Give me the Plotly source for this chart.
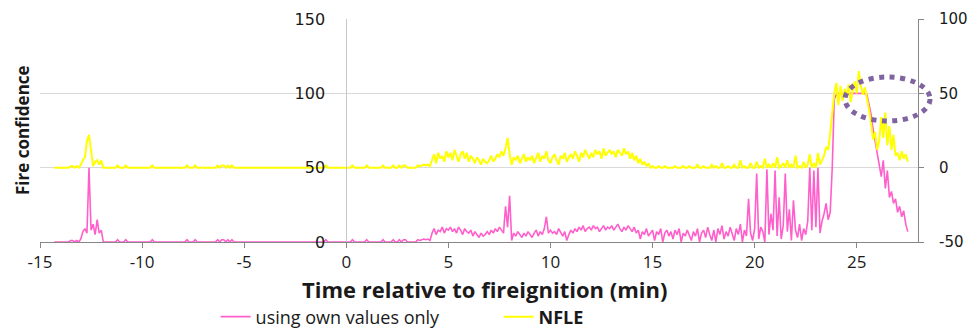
import plotly.graph_objects as go

# time grid of the samples (minutes relative to fire ignition)
T0 = -14.3
DT = 0.1

# "using own values only" (left axis, fire confidence 0-150)
own_values = (
    # -14.3 .. -13.0
    [0, 0, 0, 0, 0, 0, 0, 0, 1, 1, 0, 1, 0, 2]
    # -12.9 .. -11.9
    + [7, 9, 6, 50, 8, 12, 5, 15, 6, 8, 0]
    # -11.8 .. 4.1
    + [0, 0, 0, 0, 0, 0, 1.5, 0, 0, 0,
       1.5, 0, 0, 0, 0, 0, 0, 0, 0, 0,
       0, 0, 0, 1.5, 0, 0, 0, 0, 0, 0,
       0, 0, 0, 0, 0, 0, 0, 0, 0, 0,
       1.5, 0, 0, 0, 1.5, 0, 0, 0, 0, 0,
       0, 0, 0, 0, 0, 1.5, 0, 1.5, 1.5, 0,
       1.5, 0, 1.5, 0, 0, 0, 0, 0, 0, 0,
       0, 0, 0, 0, 0, 0, 0, 0, 0, 0,
       0, 0, 0, 0, 0, 0, 0, 0, 0, 0,
       0, 0, 0, 0, 0, 0, 0, 0, 0, 0,
       0, 0, 0, 0, 0, 0, 0, 0, 1.5, 0,
       0, 0, 0, 0, 0, 0, 0, 0, 0, 0,
       0, 1.5, 0, 0, 0, 0, 0, 0, 1.5, 0,
       0, 0, 0, 0, 0, 0, 1.5, 0, 0, 0,
       0, 1.5, 0, 0, 1.5, 0, 1.5, 1.5, 0, 0,
       0, 0, 0, 1.5, 1, 1.5, 2, 1.5, 2, 1]
    # 4.2 .. 27.5
    + [6, 9, 5, 8, 7, 10, 6, 9,
       8, 10, 7, 9, 6, 10, 8, 5, 9, 7,
       6, 8, 4, 7, 5, 3, 6, 4, 5, 7,
       5, 8, 6, 9, 7, 10, 8, 6, 24, 10,
       31, 1, 6, 4, 7, 5, 3, 6, 4, 7,
       5, 3, 6, 8, 4, 7, 5, 9, 17, 6,
       8, 6, 7, 5, 9, 6, 4, 7, 1, 5,
       8, 6, 9, 7, 10, 8, 11, 7, 9, 10,
       8, 11, 9, 10, 7, 9, 11, 8, 10, 9,
       11, 8, 10, 12, 9, 7, 10, 8, 11, 9,
       7, 10, 6, 8, 2, 7, 5, 9, 4, 6,
       8, 1, 7, 5, 9, 0, 6, 8, 4, 7,
       2, 8, 5, 9, 0, 6, 4, 8, 5, 1,
       7, 4, 9, 0, 6, 8, 3, 10, 5, 1,
       8, 0, 9, 5, 11, 2, 7, 4, 10, 6,
       1, 9, 5, 12, 0, 8, 4, 29, 6, 1,
       9, 46, 2, 10, 7, 0, 49, 5, 19, 8,
       48, 4, 30, 2, 11, 46, 7, 22, 1, 28,
       8, 3, 12, 1, 9, 5, 14, 50, 8, 48,
       10, 50, 6, 14, 19, 26, 15, 20, 50, 96,
       99, 100, 100, 100, 100, 100, 100, 100, 100, 100,
       100, 100, 100, 100, 100, 99, 92, 86, 76, 68,
       60, 52, 44, 55, 36, 48, 30, 34, 26, 29,
       20, 24, 17, 21, 12, 7]
)

# "NFLE" (right axis, -50..100)
nfle_values = (
    # -14.3 .. -13.0
    [0, 0, 0, 0, 0, 0, 0, 0, 1, 1, 0, 1, 0, 2]
    # -12.9 .. -11.9
    + [5, 7, 18, 22, 12, 1, 4, 5, 2, 5, 0]
    # -11.8 .. 4.1
    + [0, 0, 0, 0, 0, 0, 1.5, 0, 0, 0,
       1.5, 0, 0, 0, 0, 0, 0, 0, 0, 0,
       0, 0, 0, 1.5, 0, 0, 0, 0, 0, 0,
       0, 0, 0, 0, 0, 0, 0, 0, 0, 0,
       1.5, 0, 0, 0, 1.5, 0, 0, 0, 0, 0,
       0, 0, 0, 0, 0, 1.5, 0, 1.5, 1.5, 0,
       1.5, 0, 1.5, 0, 0, 0, 0, 0, 0, 0,
       0, 0, 0, 0, 0, 0, 0, 0, 0, 0,
       0, 0, 0, 0, 0, 0, 0, 0, 0, 0,
       0, 0, 0, 0, 0, 0, 0, 0, 0, 0,
       0, 0, 0, 0, 0, 0, 0, 0, 1.5, 0,
       0, 0, 0, 0, 0, 0, 0, 0, 0, 0,
       0, 1.5, 0, 0, 0, 0, 0, 0, 1.5, 0,
       0, 0, 0, 0, 0, 0, 1.5, 0, 0, 0,
       0, 1.5, 0, 0, 1.5, 0, 1.5, 1.5, 0, 0,
       0, 0, 0, 1.5, 1, 1.5, 2, 1.5, 2, 1]
    # 4.2 .. 27.5
    + [5, 9, 3, 10, 6, 8, 4, 11,
       7, 10, 5, 12, 8, 4, 9, 11, 6, 10,
       4, 8, 6, 3, 7, 5, 2, 6, 4, 3,
       5, 8, 4, 6, 9, 7, 11, 8, 13, 20,
       9, 2, 7, 5, 8, 3, 6, 9, 4, 7,
       5, 8, 3, 7, 10, 4, 8, 6, 11, 5,
       3, 7, 9, 5, 2, 8, 6, 10, 4, 7,
       9, 6, 11, 8, 4, 10, 7, 12, 9, 6,
       10, 7, 12, 9, 11, 6, 13, 8, 10, 12,
       9, 11, 7, 12, 10, 8, 13, 9, 11, 6,
       10, 5, 8, 3, 6, 2, 4, 1, 3, 0,
       1, 0, 0, 1, 0, 0, 1, 0, 0, 0,
       0, 1, 0, 0, 0, 1, 0, 0, 1, 0,
       0, 0, 2, 0, 0, 1, 0, 0, 0, 2,
       0, 1, 0, 0, 3, 0, 0, 1, 0, 0,
       2, 0, 0, 5, 0, 1, 0, 0, 3, 0,
       0, 4, 0, 1, 0, 6, 0, 2, 0, 3,
       0, 7, 0, 1, 3, 0, 5, 0, 2, 0,
       8, 0, 1, 0, 4, 0, 2, 9, 0, 3,
       0, 10, 2, 5, 8, 14, 12, 23, 39, 50,
       57, 42, 55, 45, 53, 48, 56, 44, 52, 58,
       50, 65, 55, 49, 54, 47, 39, 30, 19, 24,
       12, 18, 34, 20, 37, 15, 28, 12, 22, 8,
       10, 5, 11, 6, 9, 4]
)

x_ticks = [-15, -10, -5, 0, 5, 10, 15, 20, 25]
left_ticks = [0, 50, 100, 150]
right_ticks = [-50, 0, 50, 100]

PINK = "#FF5FCB"
YELLOW = "#FFFF00"
AXIS = "#868686"
TXT = "#1a1a1a"

fig = go.Figure()
fig.add_trace(go.Scatter(
    x0=T0, dx=DT, y=own_values, mode="lines", name="using own values only",
    line=dict(color=PINK, width=1.6), yaxis="y", xaxis="x"))
fig.add_trace(go.Scatter(
    x0=T0, dx=DT, y=nfle_values, mode="lines", name="<b>NFLE</b>",
    line=dict(color=YELLOW, width=2), yaxis="y2", xaxis="x"))

fig.update_layout(
    width=971, height=332, autosize=False,
    margin=dict(l=40, r=53, t=19, b=90, autoexpand=False),
    paper_bgcolor="white", plot_bgcolor="white",
    font=dict(family="Open Sans", color=TXT),
    xaxis=dict(range=[-15, 28], tickvals=x_ticks,
               ticktext=[str(v) for v in x_ticks],
               ticks="outside", ticklen=5,
               tickcolor=AXIS, showline=True, linecolor=AXIS, linewidth=1,
               showgrid=False, zeroline=False, automargin=False,
               tickfont=dict(family="Open Sans", size=17, color=TXT)),
    yaxis=dict(range=[0, 150], tickvals=left_ticks,
               ticktext=[str(v) for v in left_ticks], anchor="free",
               position=15 / 43, showline=True, linecolor="#c8c8c8",
               linewidth=1, showgrid=True, gridcolor="#d9d9d9",
               zeroline=False, ticks="", ticklabelstandoff=18,
               automargin=False,
               tickfont=dict(family="DejaVu Sans", size=16, color=TXT)),
    yaxis2=dict(range=[-50, 100], tickvals=right_ticks,
                ticktext=[str(v) for v in right_ticks], overlaying="y",
                side="right", anchor="x", showline=True, linecolor=AXIS,
                linewidth=1, ticks="outside", ticklen=5, tickcolor=AXIS,
                showgrid=False, zeroline=False, ticklabelstandoff=12,
                automargin=False,
                tickfont=dict(family="DejaVu Sans", size=15, color=TXT)),
    legend=dict(orientation="h", x=0.2, xanchor="left", y=-0.336,
                yanchor="middle", font=dict(family="Open Sans", size=18),
                entrywidth=238, entrywidthmode="pixels",
                bgcolor="rgba(0,0,0,0)"),
    annotations=[
        dict(text="<b>Fire confidence</b>", xref="paper", yref="paper",
             x=-0.0205, y=0.502, xanchor="center", yanchor="middle",
             textangle=-90, showarrow=False,
             font=dict(family="Open Sans", size=17)),
        dict(text="<b>Time relative to fireignition (min)</b>", xref="paper",
             yref="paper", x=0.5068, y=-0.2108, xanchor="center",
             yanchor="middle", showarrow=False,
             font=dict(family="Open Sans", size=22)),
    ],
    shapes=[
        dict(type="circle", xref="paper", yref="paper",
             x0=0.9169, x1=1.0137, y0=0.5426, y1=0.7399,
             line=dict(color="#8064A2", width=5, dash="5px,5.5px")),
    ],
)

fig.write_html(
    "out.html",
    config={"displayModeBar": False},
    post_script="document.body.style.margin='0';"
                "document.body.style.overflow='hidden';",
)
